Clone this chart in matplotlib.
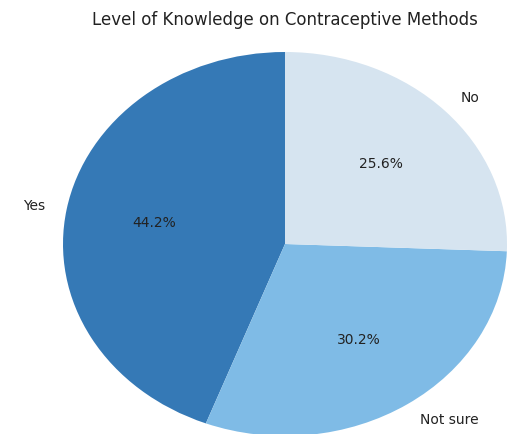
import matplotlib
matplotlib.use("Agg")
import matplotlib.pyplot as plt

labels = ["Yes", "Not sure", "No"]
values = [44.2, 30.2, 25.6]
colors = ["#3579b6", "#7fbbe6", "#d6e4f0"]

fig = plt.figure(figsize=(5.24, 4.34), dpi=100)
ax = fig.add_axes([0, 0, 1, 1])
ax.pie(values, labels=labels, colors=colors, autopct="%1.1f%%", startangle=90,
       textprops={"fontsize": 10, "color": "#222222"})
ax.set_aspect("auto")
# pixel-based limits: center (285,244) px, radii 222 x 192 px
W, H = 524, 434
cx, cy, rx, ry = 285, 244, 222, 192
ax.set_xlim(-cx / rx, (W - cx) / rx)
ax.set_ylim(-(H - cy) / ry, cy / ry)
ax.axis("off")
fig.text(285 / W, 1 - 20 / H, "Level of Knowledge on Contraceptive Methods",
         ha="center", va="center", fontsize=12, color="#222222")
fig.savefig("out.png", dpi=100, facecolor="white")
